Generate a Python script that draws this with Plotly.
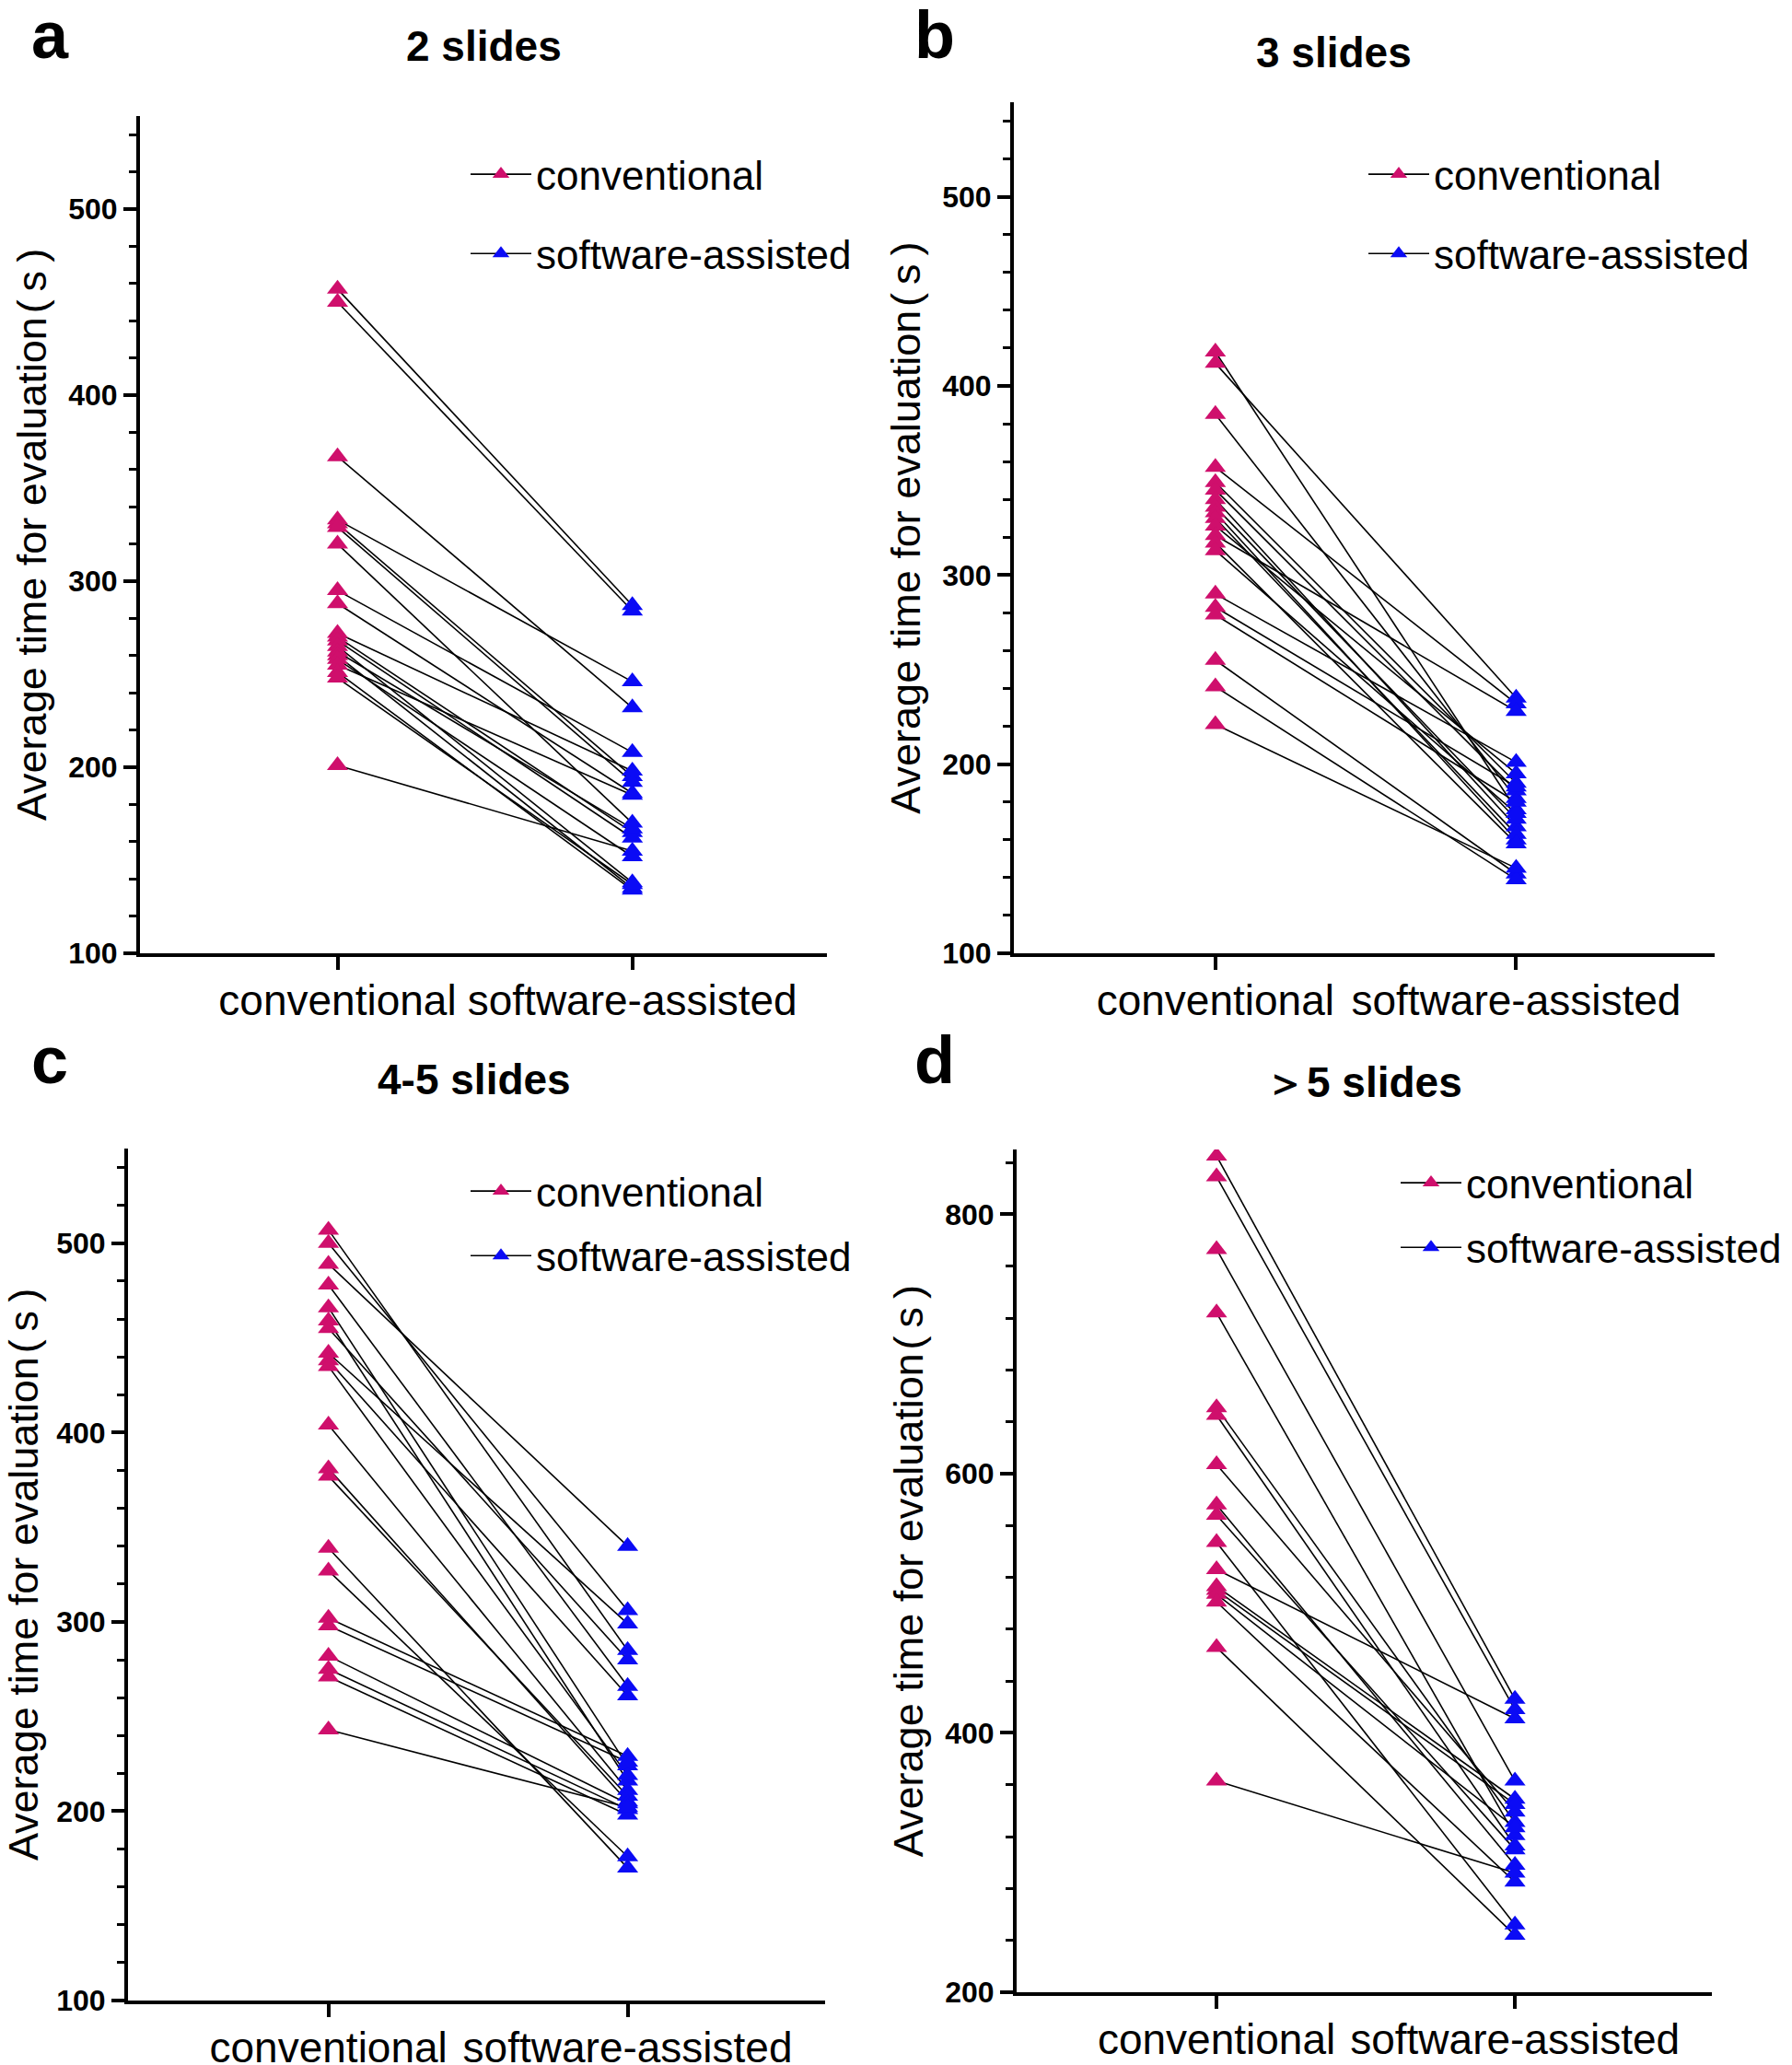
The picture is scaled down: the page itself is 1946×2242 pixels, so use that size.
import plotly.graph_objects as go

# a: 2 slides  (paired values, conventional -> software-assisted)
a_conv = [457, 450, 367, 333, 331, 329, 320, 295, 288, 272, 270, 268, 265, 262, 260, 258, 255, 251, 248, 201]
a_soft = [287, 284, 232, 246, 195, 192, 170, 208, 186, 198, 165, 162, 138, 167, 135, 152, 185, 134, 137, 155]

# b: 3 slides
b_conv = [418, 412, 385, 357, 349, 345, 340, 336, 333, 330, 326, 321, 317, 313, 290, 283, 279, 255, 241, 221]
b_soft = [176, 235, 182, 232, 190, 186, 167, 171, 160, 163, 195, 228, 158, 174, 201, 188, 180, 142, 139, 145]

# c: 4-5 slides
c_conv = [507, 500, 489, 478, 466, 459, 455, 442, 438, 435, 404, 381, 377, 339, 327, 302, 298, 282, 275, 271, 243]
c_soft = [285, 306, 340, 266, 224, 216, 280, 299, 261, 219, 211, 205, 208, 170, 176, 229, 226, 204, 201, 198, 202]

# d: >5 slides
d_conv = [845, 829, 773, 724, 651, 645, 607, 576, 568, 547, 526, 513, 510, 507, 501, 466, 363]
d_soft = [426, 418, 363, 321, 331, 313, 339, 298, 310, 252, 411, 349, 345, 327, 285, 244, 292]

groups = ["conventional", "software-assisted"]
titles = ["2 slides", "3 slides", "4-5 slides", "＞5 slides"]
letters = ["a", "b", "c", "d"]
ytitle = "Average time for evaluation\u200a(\u2009s\u2009)"

PINK = "#CF0F6C"
BLUE = "#0B0BF5"
FONT = "Liberation Sans, Arial, sans-serif"
W, H = 1946, 2242

panels = [
    dict(conv=a_conv, soft=a_soft, x=(152, 898), y=(126, 1035), yr=(100, 550), dt=100, mdt=20,
         leg=(506, 154), gap=26, title=(525, 50), letter=(54, 38)),
    dict(conv=b_conv, soft=b_soft, x=(1101, 1862), y=(111, 1035), yr=(100, 550), dt=100, mdt=20,
         leg=(1481, 154), gap=26, title=(1448, 57), letter=(1015, 38)),
    dict(conv=c_conv, soft=c_soft, x=(139, 896), y=(1247, 2172), yr=(100, 550), dt=100, mdt=20,
         leg=(506, 1258), gap=10, title=(515, 1172), letter=(54, 1151)),
    dict(conv=d_conv, soft=d_soft, x=(1104, 1859), y=(1248, 2163), yr=(200, 850), dt=200, mdt=40,
         leg=(1516, 1249), gap=10, title=(1480, 1175), letter=(1015, 1151)),
]

fig = go.Figure()
annotations = []

for i, p in enumerate(panels):
    sfx = "" if i == 0 else str(i + 1)
    xa, ya = "x" + sfx, "y" + sfx
    leg = "legend" + sfx

    # connecting lines
    lx, ly = [], []
    for c, s in zip(p["conv"], p["soft"]):
        lx += [0, 1, None]
        ly += [c, s, None]
    fig.add_trace(go.Scatter(x=lx, y=ly, mode="lines", line=dict(color="black", width=1.6),
                             xaxis=xa, yaxis=ya, showlegend=False, hoverinfo="skip"))

    for k, (vals, col) in enumerate([(p["conv"], PINK), (p["soft"], BLUE)]):
        mx, my = [], []
        for v in vals:
            mx += [k, None]
            my += [v, None]
        fig.add_trace(go.Scatter(
            x=mx, y=my, mode="lines+markers", name=groups[k],
            line=dict(color="black", width=1.6),
            marker=dict(symbol="triangle-up", size=20, color=col),
            xaxis=xa, yaxis=ya, legend=leg, legendgroup=f"{i}-{k}"))

    x0, x1 = p["x"]
    y0, y1 = p["y"]
    fig.layout["xaxis" + sfx] = dict(
        domain=[x0 / W, x1 / W], anchor=ya, range=[-0.67, 1.66], automargin=False,
        tickvals=[0, 1], ticktext=groups, showline=True, linecolor="black", linewidth=4,
        ticks="outside", ticklen=14, tickwidth=4, tickcolor="black", ticklabelstandoff=-6,
        tickfont=dict(family=FONT, size=46, color="black"),
        showgrid=False, zeroline=False)
    fig.layout["yaxis" + sfx] = dict(
        domain=[1 - y1 / H, 1 - y0 / H], anchor=xa, range=list(p["yr"]), automargin=False,
        tick0=p["yr"][0], dtick=p["dt"], showline=True, linecolor="black", linewidth=4,
        ticks="outside", ticklen=14, tickwidth=4, tickcolor="black",
        minor=dict(dtick=p["mdt"], tick0=p["yr"][0], ticks="outside", ticklen=8,
                   tickwidth=3, tickcolor="black"),
        tickfont=dict(family=FONT, size=32, color="black", weight="bold"),
        title=dict(text=ytitle, standoff=10,
                   font=dict(family=FONT, size=45, color="black")),
        showgrid=False, zeroline=False)
    fig.layout[leg] = dict(
        x=p["leg"][0] / W, y=1 - p["leg"][1] / H, xanchor="left", yanchor="top",
        bgcolor="rgba(0,0,0,0)", traceorder="grouped", tracegroupgap=p["gap"],
        font=dict(family=FONT, size=44, color="black"), itemwidth=66)

    annotations.append(dict(text=titles[i], x=p["title"][0] / W, y=1 - p["title"][1] / H,
                            xref="paper", yref="paper", xanchor="center", yanchor="middle",
                            showarrow=False,
                            font=dict(family=FONT, size=46, color="black", weight="bold")))
    annotations.append(dict(text=letters[i], x=p["letter"][0] / W, y=1 - p["letter"][1] / H,
                            xref="paper", yref="paper", xanchor="center", yanchor="middle",
                            showarrow=False,
                            font=dict(family=FONT, size=72, color="black", weight="bold")))

fig.update_layout(width=W, height=H, margin=dict(l=0, r=0, t=0, b=0),
                  paper_bgcolor="white", plot_bgcolor="white",
                  annotations=annotations)

# drop the page's default body margin so the figure sits at the top-left corner
fig.write_html("out.html", config={"displayModeBar": False},
               post_script="document.body.style.margin='0px';")
